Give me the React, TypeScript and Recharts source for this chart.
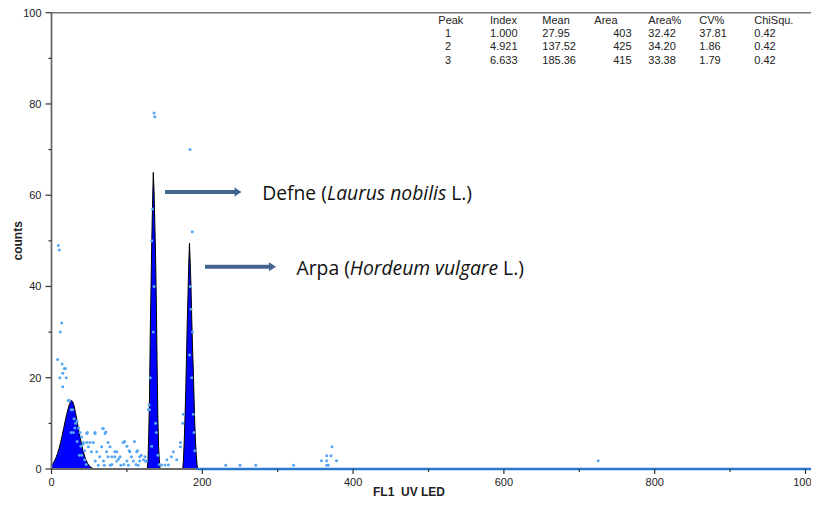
import React from 'react';
import {
  ComposedChart,
  Area,
  Scatter,
  Line,
  XAxis,
  YAxis,
  ReferenceLine,
  ReferenceDot,
} from 'recharts';

// ---------- DATA ----------
// histogram (FL1 UV LED channel -> counts)
const histChannels = [
  0, 2, 4, 6, 8, 10, 12, 14, 16, 18, 20, 22, 24, 26, 28, 30, 32, 34, 36, 38, 40, 42, 44, 46, 48, 50, 52, 54, 56,
  127, 128, 129, 130, 131, 132, 133, 134, 135, 136, 137, 138, 139, 140, 141, 142, 143, 144,
  174, 175, 176, 177, 178, 179, 180, 181, 182, 183, 184, 185, 186, 187, 188, 189, 190, 191, 192, 193, 194,
];
const histCounts = [
  0.8, 1.2, 1.8, 2.5, 3.4, 4.5, 5.8, 7.2, 8.8, 10.4, 11.9, 13.2, 14.3, 15, 14.8, 13.8, 12.2, 10.4, 8.6, 6.9, 5.3, 3.9, 2.8, 1.9, 1.2, 0.7, 0.4, 0.2, 0,
  0, 2, 8, 16, 30, 40, 50, 58, 65, 61, 54, 47, 37, 24, 12, 5, 2, 0,
  0, 2, 6, 11, 17, 24, 32, 38, 45, 49.5, 45, 40, 33, 27, 22, 16, 10, 6, 3, 1, 0,
];

// individual events (scatter dots)
const dotChannels = [
  9, 10.4, 13.5, 11.7, 8, 14, 17, 18.5, 15, 11, 19.6, 15,
  22, 24, 26, 28, 30, 32, 34, 31, 29, 26, 36, 38, 40, 34, 39, 42, 44, 37, 40, 44, 46,
  46.7, 57.7, 68.7, 71, 42, 46.7, 51, 55.5, 49, 66.5, 77.6, 95, 75, 53, 60, 73, 84, 86.5, 104, 113,
  64, 75, 80, 84, 91, 106, 117, 124, 58, 69, 86.5, 100, 108.5, 117, 126, 68, 72, 47.5, 57.7,
  97, 100, 110, 103, 114, 119, 122, 125, 112, 96, 89, 80, 62, 70, 78, 92, 102, 115,
  136, 137, 128.5, 130, 129.5, 131, 133, 134, 136, 135, 133, 138, 139, 141, 143,
  146, 150.5, 155, 153, 159, 161.5, 166, 171, 171, 174, 175,
  183.7, 186.7, 184, 185, 187, 183, 186, 188, 189, 190,
  231, 250, 271, 321, 372, 365, 370.7, 358, 365, 378, 365, 367, 725,
];
const dotCounts = [
  49, 48, 32, 30, 24, 23, 22, 22, 21, 20, 20, 18,
  15, 15, 13, 13, 11, 10, 10.5, 9, 8, 8, 9, 8, 7, 6, 5, 5.5, 4, 3, 3, 2, 1,
  7.8, 7.8, 8.9, 7.8, 5.8, 5.8, 5.8, 5.8, 4.9, 4.9, 4.9, 5.8, 5.8, 3.8, 3.8, 3.8, 3.8, 3.8, 3.8, 3.8,
  2.7, 2.7, 2.7, 2.7, 2.7, 2.7, 2.7, 2.7, 1.75, 1.75, 1.75, 1.75, 1.75, 1.75, 1.75, 8.9, 8.1, 8, 8,
  6, 5, 6, 4, 4, 3, 2, 1.7, 1, 1, 2.2, 1, 0.8, 0.8, 0.8, 0.8, 0.8, 0.8,
  78, 77.2, 13, 13, 14, 20, 50, 57, 40, 30, 5, 10, 8, 3, 1,
  0.9, 0.9, 0.9, 2, 2.7, 3.8, 2, 4.9, 5.8, 10, 12,
  70, 52, 40, 35, 30, 25, 20, 12, 8, 4,
  0.8, 0.8, 0.8, 0.8, 4.9, 2.9, 2.9, 1.8, 1.8, 1.8, 0.8, 0.8, 1.8,
];

// zero-count baseline of the acquisition beyond the last peak
const baselineChannels = [192, 1024];
const baselineCounts = [0, 0];

const xTicks = [0, 100, 200, 300, 400, 500, 600, 700, 800, 900, 1000];
const yTicks = [0, 10, 20, 30, 40, 50, 60, 70, 80, 90, 100];

// statistics table
const tableHeaders = ['Peak', 'Index', 'Mean', 'Area', 'Area%', 'CV%', 'ChiSqu.'];
const peakIds = ['1', '2', '3'];
const peakIndex = ['1.000', '4.921', '6.633'];
const peakMean = ['27.95', '137.52', '185.36'];
const peakArea = ['403', '425', '415'];
const peakAreaPct = ['32.42', '34.20', '33.38'];
const peakCV = ['37.81', '1.86', '1.79'];
const peakChi = ['0.42', '0.42', '0.42'];

// annotations
const annoNames = ['Defne (', 'Arpa ('];
const annoLatin = ['Laurus nobilis', 'Hordeum vulgare'];
const annoSuffix = [' L.)', ' L.)'];
const annoArrowFrom = [150.5, 203.6];
const annoArrowTo = [252, 297.7];
const annoLevel = [60.7, 44.3];
const annoTextAt = [279.5, 325];

// ---------- BUILD ----------
const histData = histChannels.map((x, i) => ({ x, y: histCounts[i] }));
const dotData = dotChannels.map((x, i) => ({ x, y: dotCounts[i] }));
const baselineData = baselineChannels.map((x, i) => ({ x, y: baselineCounts[i] }));

const FONT = '"Liberation Sans", Arial, sans-serif';
const AXIS = '#6a6a6a';
const ARROW = '#43648e';

const XTick = (props: any) => {
  const { x, y, payload } = props;
  const major = payload.value % 200 === 0;
  return (
    <g>
      <line x1={x} y1={y} x2={x} y2={y + (major ? 5 : 3)} stroke="#333" strokeWidth={1.2} />
      {major && (
        <text x={x} y={y + 17} textAnchor="middle" fontSize={11} fill="#222" fontFamily={FONT}>
          {payload.value}
        </text>
      )}
    </g>
  );
};

const YTick = (props: any) => {
  const { x, y, payload } = props;
  const major = payload.value % 20 === 0;
  return (
    <g>
      <line x1={x - (major ? 6 : 3)} y1={y} x2={x} y2={y} stroke="#333" strokeWidth={1.2} />
      {major && (
        <text x={x - 10} y={y + 4} textAnchor="end" fontSize={11} fill="#222" fontFamily={FONT}>
          {payload.value}
        </text>
      )}
    </g>
  );
};

const Dot = (p: any) => <circle cx={p.cx} cy={p.cy} r={1.5} fill="#55a6f5" />;

const ArrowShape = (p: any) => {
  const { x1, y1, x2, y2 } = p;
  return (
    <g>
      <line x1={x1} y1={y1} x2={x2 - 5} y2={y2} stroke={ARROW} strokeWidth={4} />
      <polygon points={`${x2 - 7},${y2 - 4.5} ${x2},${y2} ${x2 - 7},${y2 + 4.5}`} fill={ARROW} />
    </g>
  );
};

const makeLabel = (i: number) => (p: any) => (
  <text
    x={p.cx}
    y={p.cy}
    dominantBaseline="central"
    fontSize={19.3}
    fill="#111"
    fontFamily="'Open Sans', Lato, sans-serif"
    style={{ whiteSpace: 'pre' }}
  >
    <tspan>{annoNames[i]}</tspan>
    <tspan fontStyle="italic">{annoLatin[i]}</tspan>
    <tspan>{annoSuffix[i]}</tspan>
  </text>
);

const tableX = [430.3, 482, 534.3, 586.3, 640.3, 691.3, 746.3];

const StatsTable = () => {
  const rows = peakIds.map((id, i) => [id, peakIndex[i], peakMean[i], peakArea[i], peakAreaPct[i], peakCV[i], peakChi[i]]);
  return (
    <svg width={811} height={80} style={{ position: 'absolute', left: 0, top: 0, pointerEvents: 'none' }}>
      <g fontFamily={FONT} fontSize={11} fill="#222">
        {tableHeaders.map((h, c) => (
          <text key={h} x={tableX[c]} y={15.5}>{h}</text>
        ))}
        {rows.map((r, ri) =>
          r.map((v, c) => {
            const y = 29 + ri * 13.3;
            if (c === 0) return <text key={c} x={437} y={y}>{v}</text>;
            if (c === 3) return <text key={c} x={623.5} y={y} textAnchor="end">{v}</text>;
            return <text key={c} x={tableX[c]} y={y}>{v}</text>;
          })
        )}
      </g>
    </svg>
  );
};

export default function App() {
  return (
    <div style={{ position: 'relative', width: 811, height: 498, overflow: 'hidden', background: '#fff' }}>
      <ComposedChart
        width={830}
        height={498}
        margin={{ top: 4.7, right: 14.4, bottom: 7, left: 0 }}
      >
        <XAxis
          dataKey="x"
          type="number"
          domain={[0, 1024]}
          ticks={xTicks}
          interval={0}
          tick={<XTick />}
          tickLine={false}
          tickSize={0}
          tickMargin={0}
          axisLine={{ stroke: AXIS, strokeWidth: 1.8 }}
          height={30}
          label={{
            content: (lp: any) => {
              const vb = lp.viewBox;
              return (
                <text
                  x={vb.x + 357.5}
                  y={vb.y + 27}
                  textAnchor="middle"
                  fontSize={12}
                  fontWeight="bold"
                  fill="#222"
                  fontFamily={FONT}
                  style={{ whiteSpace: 'pre' }}
                >
                  {'FL1  UV LED'}
                </text>
              );
            },
          }}
        />
        <YAxis
          dataKey="y"
          type="number"
          domain={[0, 100]}
          ticks={yTicks}
          interval={0}
          tick={<YTick />}
          tickLine={false}
          tickSize={0}
          tickMargin={0}
          axisLine={{ stroke: AXIS, strokeWidth: 1.8 }}
          width={43.5}
          label={{
            content: (lp: any) => {
              const vb = lp.viewBox;
              const cx = vb.x + 10;
              const cy = vb.y + vb.height / 2;
              return (
                <text
                  x={cx}
                  y={cy}
                  transform={`rotate(-90, ${cx}, ${cy})`}
                  textAnchor="middle"
                  dominantBaseline="central"
                  fontSize={12}
                  fontWeight="bold"
                  fill="#222"
                  fontFamily={FONT}
                >
                  counts
                </text>
              );
            },
          }}
        />
        <ReferenceLine y={100} stroke="#777" strokeWidth={1.6} ifOverflow="visible" />
        <Area
          data={histData}
          dataKey="y"
          type="linear"
          stroke="#000"
          strokeWidth={1}
          fill="#0000ff"
          fillOpacity={1}
          baseValue={0}
          isAnimationActive={false}
          dot={false}
          activeDot={false}
        />
        <Line
          data={baselineData}
          dataKey="y"
          stroke="#2a78d2"
          strokeWidth={2.4}
          dot={false}
          activeDot={false}
          isAnimationActive={false}
          zIndex={700}
        />
        <Scatter data={dotData} dataKey="y" shape={<Dot />} isAnimationActive={false} />
        {annoArrowFrom.map((f, i) => (
          <ReferenceLine
            key={'a' + i}
            segment={[
              { x: f, y: annoLevel[i] },
              { x: annoArrowTo[i], y: annoLevel[i] },
            ]}
            shape={ArrowShape}
            ifOverflow="visible"
          />
        ))}
        {annoTextAt.map((t, i) => (
          <ReferenceDot
            key={'t' + i}
            x={t}
            y={annoLevel[i]}
            r={1}
            shape={makeLabel(i)}
            ifOverflow="visible"
          />
        ))}
      </ComposedChart>
      <StatsTable />
    </div>
  );
}
